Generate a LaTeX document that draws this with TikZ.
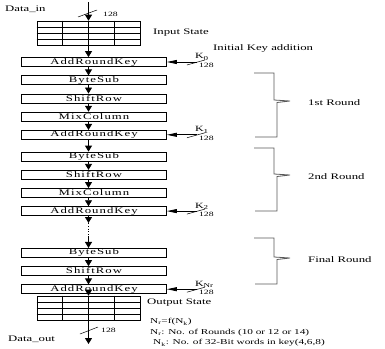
\documentclass[tikz,border=0pt]{standalone}
\usepackage{fontspec}
\setmainfont{Liberation Serif}[FakeStretch=1.5]
\newfontfamily\boxfont{Liberation Serif}[FakeStretch=1.5, LetterSpace=12]
\usepackage{tikz}
\usetikzlibrary{arrows.meta, positioning, calc}

\begin{document}
\begin{tikzpicture}[x=1pt, y=-1pt,
   node distance=8.5pt,
   box/.style={draw, line width=0.7pt, minimum width=145pt, minimum height=9pt,
               inner sep=0pt, font=\boxfont\fontsize{8.5}{9}\selectfont},
   state/.style={draw, line width=0.6pt, minimum width=103pt, minimum height=24pt,
                 inner sep=0pt},
   lbl/.style={inner sep=0pt, anchor=west, font=\fontsize{8.5}{9}\selectfont},
   small/.style={inner sep=0pt, anchor=west, font=\fontsize{6.5}{7}\selectfont},
   keylbl/.style={inner sep=0pt, anchor=west, font=\fontsize{8}{8}\selectfont},
   arr/.style={-{Triangle[width=7pt,length=6pt]}, line width=0.8pt},
   keyarr/.style={-{Triangle[width=4pt,length=10pt]}, line width=0.8pt},
   bus/.style={line width=0.5pt},
   brk/.style={draw=black!65, line width=0.8pt}]

  \useasboundingbox (0,0) rectangle (385,348);

  \coordinate (din) at (88.5,2);
  \node[state] (instate) at (88.5,33) {};
  \node[box] (ark0) at (94,62) {AddRoundKey};
  \node[box, below=of ark0] (bs1) {ByteSub};
  \node[box, below=of bs1] (sr1) {ShiftRow};
  \node[box, below=of sr1] (mc1) {MixColumn};
  \node[box, below=of mc1] (ark1) {AddRoundKey};
  \node[box, below=12pt of ark1] (bs2) {ByteSub};
  \node[box, below=of bs2] (sr2) {ShiftRow};
  \node[box, below=of sr2] (mc2) {MixColumn};
  \node[box, below=of mc2] (ark2) {AddRoundKey};
  \node[box, below=32pt of ark2] (bs3) {ByteSub};
  \node[box, below=of bs3] (sr3) {ShiftRow};
  \node[box, below=of sr3] (ark3) {AddRoundKey};
  \node[state] (outstate) at (88.5,308) {};
  \coordinate (dout) at (88.5,344);
  \coordinate (gapa) at (88.5,223);
  \coordinate (gapb) at (88.5,236);

  \foreach \g in {instate, outstate}
    \foreach \f in {0.25, 0.5, 0.75} {
      \draw[line width=0.6pt] ($(\g.north west)!\f!(\g.north east)$) -- ($(\g.south west)!\f!(\g.south east)$);
      \draw[line width=0.6pt] ($(\g.north west)!\f!(\g.south west)$) -- ($(\g.north east)!\f!(\g.south east)$);
    }

  \draw[arr] (din) -- (instate.north);
  \draw[arr] (instate.north) -- (ark0.north -| instate);
  \foreach \a/\b in {ark0/bs1, bs1/sr1, sr1/mc1, mc1/ark1, ark1/bs2, bs2/sr2,
                     sr2/mc2, mc2/ark2, bs3/sr3, sr3/ark3}
    \draw[arr] (\a.south -| instate) -- (\b.north -| instate);
  \draw[arr] (ark2.south -| instate) -- (gapa);
  \draw[dotted, line width=0.8pt] (gapa) -- (gapb);
  \draw[arr] (gapb) -- (bs3.north -| instate);
  \draw[arr] (ark3.south -| instate) -- (outstate.north);
  \draw[arr] (outstate.north) -- (dout);

  \draw[bus] (78,17) -- (97,10);
  \node[small] (inbits) at (103,14) {128};
  \draw[bus] (80,334) -- (98,327);
  \node[small] (outbits) at (101,330) {128};

  \foreach \k/\n in {ark0/0, ark1/1, ark2/2, ark3/{Nr}} {
    \coordinate (key\k) at ($(\k.east)+(30,0)$);
    \draw[keyarr] (key\k) -- (\k.east);
    \draw[bus] ($(key\k)+(-10,3)$) -- ++(18,-5);
    \node[keylbl] at ($(key\k)+(-2,-5)$) {K\textsubscript{\n}};
    \node[small] at ($(key\k)+(2,3.5)$) {128};
  }

  \foreach \ya/\ym/\yb/\rname in {73/101/137/1st Round, 148/175/211/2nd Round,
                                 238/258/284/Final Round} {
    \draw[brk] (254,\ya) -- (274,\ya) -- (274,\ym-1) -- (290,\ym) -- (277,\ym+1.5)
               -- (277,\yb) -- (255,\yb);
    \node[lbl] at (308,\ym+2) {\rname};
  }

  \node[lbl] (datain) at (5,9) {Data\_in};
  \node[lbl] (inlbl) at (153,33) {Input State};
  \node[lbl] (initlbl) at (213,48) {Initial Key addition};
  \node[lbl] (outlbl) at (147,303) {Output State};
  \node[lbl] (dataout) at (8,339) {Data\_out};
  \node[lbl, font=\fontsize{7.5}{8}\selectfont] (nrf) at (150,322) {N\textsubscript{r}=f(N\textsubscript{k})};
  \node[lbl, font=\fontsize{7.5}{8}\selectfont] (nrdef) at (150,333) {N\textsubscript{r}: No. of Rounds (10 or 12 or 14)};
  \node[lbl, font=\fontsize{7.5}{8}\selectfont] (nkdef) at (153,343) {N\textsubscript{k}: No. of 32-Bit words in key(4,6,8)};
\end{tikzpicture}
\end{document}
